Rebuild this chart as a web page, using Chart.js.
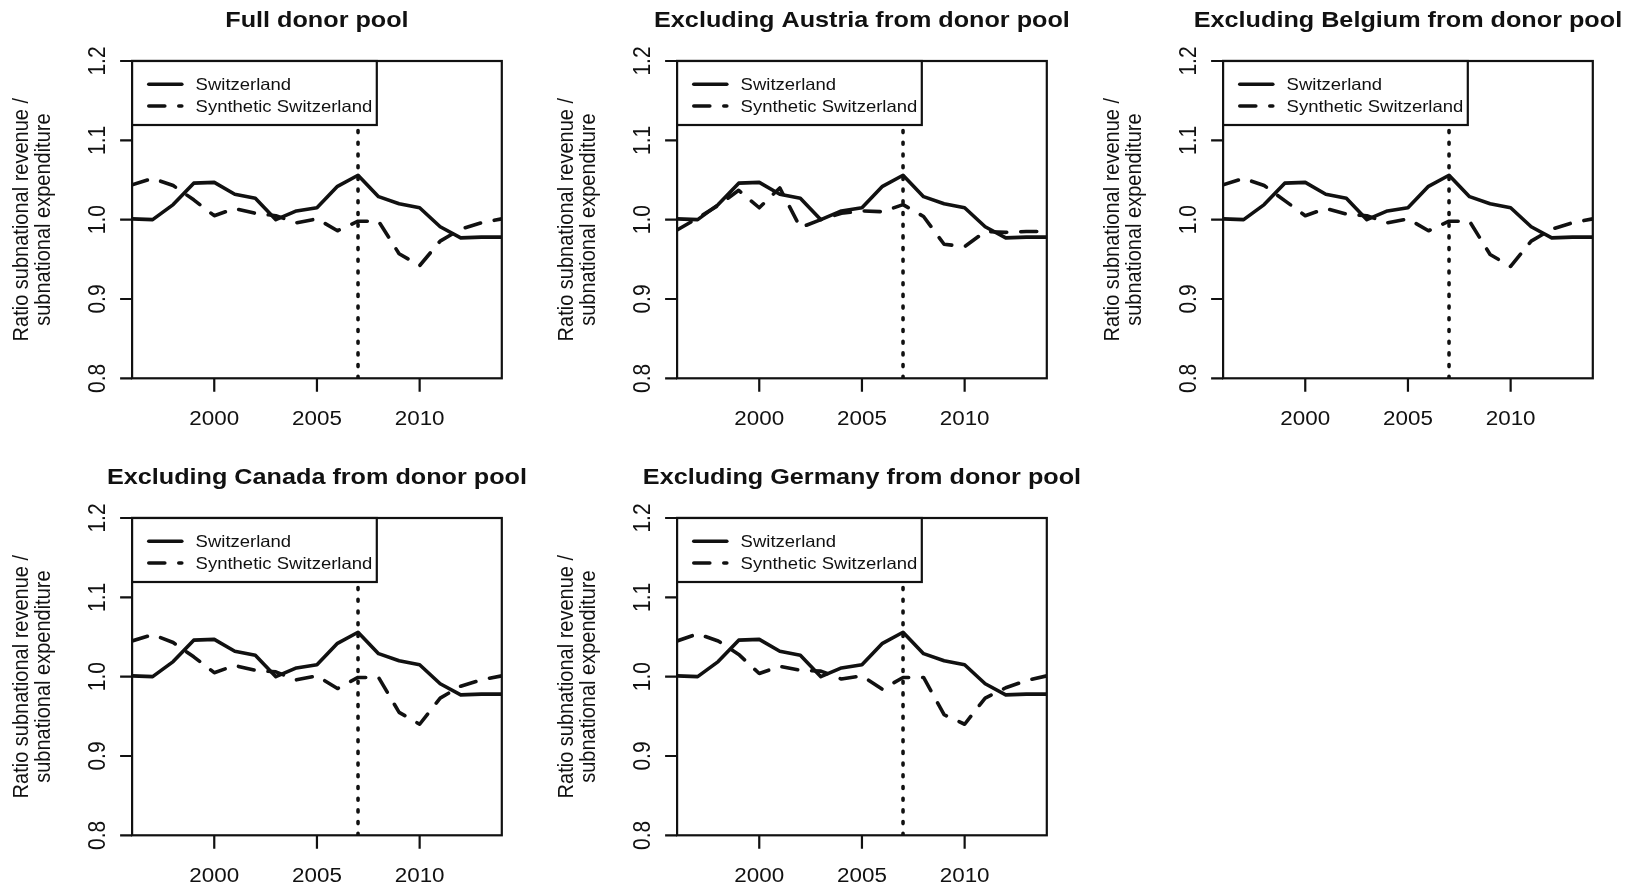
<!DOCTYPE html>
<html>
<head>
<meta charset="utf-8">
<title>Synthetic control: leave-one-out donor pools</title>
<script src="https://cdn.jsdelivr.net/npm/chart.js@4.4.1/dist/chart.umd.min.js"></script>
<style>
  html, body { margin: 0; padding: 0; background: #ffffff; width: 1629px; height: 886px; overflow: hidden; }
  canvas { position: absolute; display: block; }
</style>
</head>
<body>
<canvas id="p0" width="545" height="429" style="left:0px;top:0px"></canvas>
<canvas id="p1" width="545" height="429" style="left:545px;top:0px"></canvas>
<canvas id="p2" width="538" height="429" style="left:1091px;top:0px"></canvas>
<canvas id="p3" width="545" height="429" style="left:0px;top:457px"></canvas>
<canvas id="p4" width="545" height="429" style="left:545px;top:457px"></canvas>
<script>
// ---- data -------------------------------------------------------------
const years = [1996, 1997, 1998, 1999, 2000, 2001, 2002, 2003, 2004, 2005,
               2006, 2007, 2008, 2009, 2010, 2011, 2012, 2013, 2014];

// observed ratio of subnational revenue to subnational expenditure
const switzerland = [1.001, 1.000, 1.019, 1.046, 1.047, 1.032, 1.027, 1.000, 1.011, 1.015,
                     1.042, 1.056, 1.029, 1.020, 1.015, 0.991, 0.977, 0.978, 0.978];

// synthetic counterparts, one per donor pool
const synthFull    = [1.044, 1.052, 1.043, 1.025, 1.005, 1.014, 1.008, 1.005, 0.996, 1.001,
                      0.986, 0.998, 0.998, 0.957, 0.942, 0.973, 0.988, 0.996, 1.001];
const synthAustria = [0.987, 1.002, 1.018, 1.037, 1.015, 1.040, 0.990, 1.000, 1.008, 1.011,
                      1.010, 1.019, 1.004, 0.969, 0.966, 0.985, 0.984, 0.985, 0.985];
const synthBelgium = [1.044, 1.052, 1.043, 1.024, 1.005, 1.014, 1.007, 1.005, 0.996, 1.001,
                      0.986, 0.998, 0.998, 0.956, 0.941, 0.973, 0.988, 0.996, 1.001];
const synthCanada  = [1.045, 1.053, 1.043, 1.025, 1.005, 1.014, 1.008, 1.006, 0.996, 1.001,
                      0.985, 0.999, 0.999, 0.955, 0.940, 0.973, 0.988, 0.996, 1.001];
const synthGermany = [1.045, 1.054, 1.045, 1.028, 1.004, 1.013, 1.008, 1.007, 0.997, 1.001,
                      0.984, 0.999, 0.999, 0.952, 0.940, 0.973, 0.986, 0.995, 1.001];

const panelTitles = ['Full donor pool',
                     'Excluding Austria from donor pool',
                     'Excluding Belgium from donor pool',
                     'Excluding Canada from donor pool',
                     'Excluding Germany from donor pool'];
const panelSynth = [synthFull, synthAustria, synthBelgium, synthCanada, synthGermany];

const treatmentYear = 2007;
const xRange = [1996, 2014];
const yRange = [0.8, 1.2];
const xTicks = [2000, 2005, 2010];
const yTicks = [0.8, 0.9, 1.0, 1.1, 1.2];
const yTickLabels = ['0.8', '0.9', '1.0', '1.1', '1.2'];
const yTitle = ['Ratio subnational revenue /', 'subnational expenditure'];
const seriesNames = ['Switzerland', 'Synthetic Switzerland'];

// ---- styling ----------------------------------------------------------
const INK = '#111111';
const FAMILY = '"Liberation Sans", Arial, Helvetica, sans-serif';
const STRETCH = 1.12;          // horizontal widening of the lettering
const LINE_W = 3.6;
const DASH_SYNTH = [16, 14];
const DASH_DOT = [2, 9.7];

Chart.defaults.font.family = FAMILY;

function drawText(ctx, str, x, y, size, opts) {
  ctx.save();
  ctx.translate(x, y);
  ctx.scale(STRETCH, 1);
  if (opts.rot) ctx.rotate(opts.rot);
  ctx.font = (opts.bold ? 'bold ' : '') + size + 'px ' + FAMILY;
  ctx.textAlign = opts.align || 'center';
  ctx.textBaseline = 'alphabetic';
  ctx.fillStyle = INK;
  ctx.fillText(str, 0, 0);
  ctx.restore();
}

// frame, axes, titles and legend in the style of a base-graphics plot
const framePlugin = {
  id: 'rframe',
  beforeDatasetsDraw(chart) {
    const { ctx, chartArea: a, scales } = chart;
    const xs = scales.x, ys = scales.y;
    ctx.save();
    ctx.strokeStyle = INK;
    ctx.lineWidth = 2.2;
    ctx.lineCap = 'butt';
    ctx.strokeRect(a.left, a.top, a.right - a.left, a.bottom - a.top);

    ctx.beginPath();
    // y axis ticks
    yTicks.forEach(v => {
      const py = ys.getPixelForValue(v);
      ctx.moveTo(a.left, py);
      ctx.lineTo(a.left - 12, py);
    });
    // x axis ticks
    xTicks.forEach(v => {
      const px = xs.getPixelForValue(v);
      ctx.moveTo(px, a.bottom);
      ctx.lineTo(px, a.bottom + 13.5);
    });
    ctx.stroke();
    ctx.restore();

    yTicks.forEach((v, i) => {
      const py = ys.getPixelForValue(v);
      drawText(ctx, yTickLabels[i], a.left - 35.5 + 7.5 * STRETCH, py, 21, { rot: -Math.PI / 2 });
    });
    xTicks.forEach(v => {
      const px = xs.getPixelForValue(v);
      drawText(ctx, String(v), px, a.bottom + 47, 20, {});
    });

    // y axis title, two lines
    const midY = (a.top + a.bottom) / 2;
    drawText(ctx, yTitle[0], a.left - 104, midY, 20, { rot: -Math.PI / 2 });
    drawText(ctx, yTitle[1], a.left - 82, midY, 20, { rot: -Math.PI / 2 });

    // panel title
    drawText(ctx, chart.options.plugins.rframe.title, (a.left + a.right) / 2, a.top - 34.3, 22.5, { bold: true });
  },
  afterDatasetsDraw(chart) {
    const { ctx, chartArea: a } = chart;
    const lx = a.left, ly = a.top, lw = 244.7, lh = 64;
    ctx.save();
    ctx.fillStyle = '#ffffff';
    ctx.fillRect(lx, ly, lw, lh);
    ctx.strokeStyle = INK;
    ctx.lineWidth = 2.2;
    ctx.strokeRect(lx, ly, lw, lh);

    const rows = [ly + 23.3, ly + 45];
    ctx.lineWidth = LINE_W;
    ctx.lineCap = 'round';
    ctx.beginPath();
    ctx.moveTo(lx + 16.7, rows[0]);
    ctx.lineTo(lx + 49.7, rows[0]);
    ctx.stroke();
    ctx.setLineDash(DASH_SYNTH);
    ctx.beginPath();
    ctx.moveTo(lx + 16.7, rows[1]);
    ctx.lineTo(lx + 49.7, rows[1]);
    ctx.stroke();
    ctx.restore();

    drawText(ctx, seriesNames[0], lx + 63.5, rows[0] + 5.9, 16.5, { align: 'left' });
    drawText(ctx, seriesNames[1], lx + 63.5, rows[1] + 5.9, 16.5, { align: 'left' });
  }
};

function points(values) {
  return years.map((y, i) => ({ x: y, y: values[i] }));
}

function makePanel(idx) {
  const canvas = document.getElementById('p' + idx);
  const w = canvas.width, h = canvas.height;
  const boxLeft = 132.1, boxRight = 501.8, boxTop = 61, boxBottom = 378.3;
  new Chart(canvas, {
    type: 'line',
    data: {
      datasets: [
        {
          label: seriesNames[0],
          data: points(switzerland),
          borderColor: INK, borderWidth: LINE_W,
          pointRadius: 0, tension: 0, fill: false,
          borderJoinStyle: 'round', borderCapStyle: 'round',
          order: 3
        },
        {
          label: seriesNames[1],
          data: points(panelSynth[idx]),
          borderColor: INK, borderWidth: LINE_W, borderDash: DASH_SYNTH,
          pointRadius: 0, tension: 0, fill: false,
          borderJoinStyle: 'round', borderCapStyle: 'round',
          order: 2
        },
        {
          label: 'treatment',
          data: [{ x: treatmentYear, y: yRange[0] }, { x: treatmentYear, y: yRange[1] }],
          borderColor: INK, borderWidth: LINE_W, borderDash: DASH_DOT,
          pointRadius: 0, fill: false, borderCapStyle: 'round',
          order: 1
        }
      ]
    },
    options: {
      responsive: false,
      animation: false,
      events: [],
      layout: { padding: { left: boxLeft, right: w - boxRight, top: boxTop, bottom: h - boxBottom } },
      scales: {
        x: { type: 'linear', min: xRange[0], max: xRange[1], display: false },
        y: { type: 'linear', min: yRange[0], max: yRange[1], display: false }
      },
      plugins: {
        legend: { display: false },
        tooltip: { enabled: false },
        rframe: { title: panelTitles[idx] }
      }
    },
    plugins: [framePlugin]
  });
}

for (let i = 0; i < 5; i++) makePanel(i);
</script>
</body>
</html>
